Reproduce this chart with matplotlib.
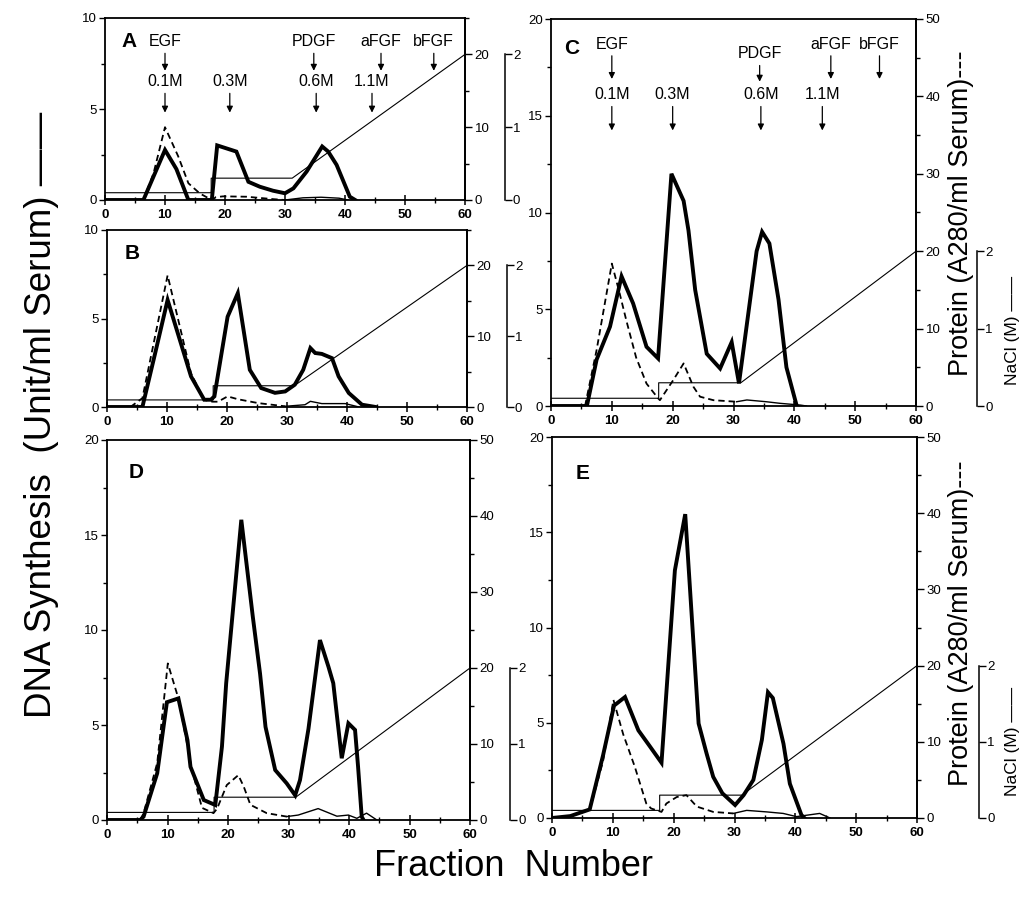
import matplotlib
matplotlib.use("Agg")
import matplotlib.pyplot as plt
from matplotlib.ticker import MultipleLocator

plt.rcParams['font.family'] = ['Liberation Sans', 'DejaVu Sans']

# ---- data ----
# DNA synthesis (Unit/ml serum), thick solid line
A_dna_x = [0, 6.4, 8.1, 10, 11.9, 13.9, 17.8, 18.7, 21.9, 23.9, 25.8, 28, 30, 31.4, 33.6, 36.2, 37.2, 38.6, 40.8, 41.7]
A_dna_y = [0, 0, 1.3, 2.75, 1.7, 0, 0, 3.0, 2.66, 1.0, 0.73, 0.51, 0.37, 0.64, 1.56, 2.94, 2.66, 1.93, 0.18, 0]
B_dna_x = [0, 5.9, 8, 10.1, 14, 16.2, 17.3, 17.9, 20.1, 21.8, 23.8, 25.7, 28, 29.7, 31.3, 32.7, 33.9, 34.7,
           35.8, 37.5, 38.6, 40.3, 42.5, 44.8]
B_dna_y = [0, 0, 3.0, 6.05, 1.73, 0.41, 0.41, 0.6, 5.1, 6.43, 2.1, 1.07, 0.8, 0.88, 1.26, 2.1, 3.33, 3.05,
           3.0, 2.76, 1.73, 0.79, 0.13, 0]
C_dna_x = [0, 5.9, 7.5, 9.7, 11.6, 13.5, 15.7, 17.6, 19.8, 21.8, 22.6, 23.7, 25.6, 27.8, 29.7, 30.9, 33.8,
           34.7, 35.9, 37.4, 38.7, 40.4]
C_dna_y = [0, 0, 2.4, 4.1, 6.7, 5.3, 3.06, 2.46, 12.0, 10.6, 9.07, 6.0, 2.7, 1.94, 3.3, 1.17, 8.0,
           9.0, 8.4, 5.5, 2.0, 0]
D_dna_x = [0, 5.5, 6.05, 8.3, 9.9, 11.8, 13.3, 13.8, 16, 17.9, 19, 19.7, 22.2, 24.1, 25.3, 26.2, 27.8, 29.7,
           31.1, 31.9, 33.3, 35.2, 36.6, 37.4, 38.8, 39.9, 41, 41.5, 42.1, 42.4]
D_dna_y = [0, 0, 0.18, 2.46, 6.2, 6.4, 4.2, 2.8, 1.05, 0.79, 3.86, 7.2, 15.8, 10.7, 7.7, 4.9, 2.63, 1.93,
           1.3, 2.1, 4.8, 9.47, 8.07, 7.2, 3.25, 5.09, 4.74, 2.8, 0.18, 0]
E_dna_x = [0, 3, 6.2, 8.4, 10.2, 12, 14.2, 16, 18, 20.2, 21.9, 24.1, 25.4, 26.5, 28, 30.1, 31.5, 33.1,
           34.5, 35.5, 36.3, 38.05, 39.1, 41, 41.5]
E_dna_y = [0, 0.1, 0.45, 3.3, 5.9, 6.35, 4.6, 3.8, 2.9, 13.0, 15.95, 4.96, 3.4, 2.16, 1.3, 0.68, 1.2, 2.0,
           4.1, 6.6, 6.3, 3.9, 1.8, 0.16, 0]

# protein (A280/ml serum), dashed part then thin solid tail
A_prot_x = [6.4, 8.1, 10, 12.2, 13.9, 15.8, 17.8, 18.5, 19.7, 23.6, 28, 30]
A_prot_y = [0, 3.7, 10.0, 6.0, 2.3, 0.9, 0, 0.4, 0.5, 0.45, 0.12, 0]
A_tail_x = [30, 33, 36, 39, 40.5]
A_tail_y = [0, 0.3, 0.38, 0.25, 0]
B_prot_x = [3.9, 5.9, 10.1, 14, 16.2, 17.6, 18.5, 20.1, 21.8, 25.2, 29.7]
B_prot_y = [0, 1.25, 18.6, 4.75, 1.0, 0.75, 0.75, 1.5, 1.1, 0.55, 0.1]
B_tail_x = [29.7, 33, 33.9, 35.8, 39.7, 42]
B_tail_y = [0.1, 0.32, 0.8, 0.48, 0.48, 0]
C_prot_x = [5.6, 7.5, 10, 11.3, 12.4, 14, 15.7, 17.6, 17.9, 20.1, 21.8, 23.4, 24.5, 26.7, 30.5]
C_prot_y = [0, 7.25, 18.4, 14.5, 11, 6.25, 2.9, 1.0, 0.75, 3.35, 5.5, 2.5, 1.2, 0.75, 0.55]
C_tail_x = [30.5, 32.2, 35.4, 37.6, 41, 42]
C_tail_y = [0.55, 0.78, 0.55, 0.35, 0.12, 0]
D_prot_x = [5.5, 6.05, 8.3, 10.05, 11.8, 14, 15.7, 17.6, 18.2, 19.8, 21.7, 22.6, 23.7, 26.4, 29.7]
D_prot_y = [0, 0.9, 7.5, 20.6, 16, 6.75, 1.6, 0.9, 1.5, 4.6, 5.9, 4.4, 2.0, 0.9, 0.45]
D_tail_x = [29.7, 31.6, 34.9, 38, 39.9, 41.3, 42.9, 44.6]
D_tail_y = [0.45, 0.65, 1.5, 0.5, 0.65, 0.22, 0.9, 0]
E_prot_x = [6.2, 8.4, 10.1, 11.7, 13.6, 15.5, 16.3, 18, 18.8, 20.5, 22.1, 23.8, 26.5, 29.8]
E_prot_y = [1.0, 7.5, 15.5, 11, 6.75, 1.9, 1.25, 0.8, 1.9, 2.75, 3.0, 1.5, 0.8, 0.6]
E_tail_x = [29.8, 32, 35.3, 38, 40.2, 44, 45.7]
E_tail_y = [0.6, 1.0, 0.8, 0.6, 0.18, 0.6, 0]

# NaCl elution program (M)
nacl_x = [0, 17.7, 17.7, 31.2, 60]
nacl_M = [0.1, 0.1, 0.3, 0.3, 2.0]

# arrow labels
gf_names = ['EGF', 'PDGF', 'aFGF', 'bFGF']
gf_frac_A = [10, 34.8, 46, 54.8]
gf_frac_C = [10, 34.3, 46, 54]
salt_names = ['0.1M', '0.3M', '0.6M', '1.1M']
salt_frac_A = [10, 20.8, 35.2, 44.5]
salt_frac_C = [10, 20, 34.5, 44.6]

W, H = 1026, 899
fig = plt.figure(figsize=(W / 100, H / 100), dpi=100)


def rect(l, r, t, b):
    return [l / W, 1 - b / H, (r - l) / W, (b - t) / H]


def panel(pos, letter, dna, prot, tail, big, nacl_pos, letter_xy):
    ax = fig.add_axes(pos)
    dmax = 20 if big else 10
    pmax = 50 if big else 25
    ax.set_xlim(0, 60)
    ax.set_ylim(0, dmax)
    ax.xaxis.set_major_locator(MultipleLocator(10))
    ax.xaxis.set_minor_locator(MultipleLocator(5))
    ax.yaxis.set_major_locator(MultipleLocator(5))
    ax.yaxis.set_minor_locator(MultipleLocator(2.5))
    ax.tick_params(axis='x', which='major', direction='inout', length=7, width=1.1, labelsize=9.5, pad=3)
    ax.tick_params(axis='x', which='minor', direction='inout', length=5, width=1.0)
    ax.tick_params(axis='y', which='major', direction='out', length=4, width=1.0, labelsize=9.5, pad=2)
    ax.tick_params(axis='y', which='minor', direction='out', length=3, width=1.0)
    for lab in ax.get_xticklabels():
        lab.set_fontweight('bold')
    for s in ax.spines.values():
        s.set_linewidth(1.3)

    ax2 = ax.twinx()
    ax2.set_ylim(0, pmax)
    ax2.yaxis.set_minor_locator(MultipleLocator(5))
    ax2.set_yticks([t for t in range(0, pmax + 1, 10)])
    ax2.tick_params(axis='y', which='major', direction='out', length=5, width=1.0, labelsize=9.5, pad=2)
    ax2.tick_params(axis='y', which='minor', direction='out', length=3, width=1.0)
    for k in ['left', 'top', 'bottom']:
        ax2.spines[k].set_visible(False)
    ax2.spines['right'].set_linewidth(1.3)

    ax3 = ax.twinx()
    ax3.set_ylim(0, 2.0 * pmax / 20)
    ax3.spines['right'].set_position(('axes', nacl_pos))
    ax3.spines['right'].set_bounds(0, 2)
    ax3.spines['right'].set_linewidth(1.1)
    for k in ['left', 'top', 'bottom']:
        ax3.spines[k].set_visible(False)
    ax3.set_yticks([0, 1, 2])
    ax3.set_yticklabels(['0', '1', '2'])
    ax3.tick_params(axis='y', direction='out', length=5, width=1.0, labelsize=9.5, pad=1)

    ax3.plot(nacl_x, nacl_M, color='k', lw=0.8)
    ax2.plot(prot[0], prot[1], color='k', lw=1.3, ls=(0, (3.5, 2.2)))
    ax2.plot(tail[0], tail[1], color='k', lw=1.0)
    ax.plot(dna[0], dna[1], color='k', lw=2.8, solid_joinstyle='miter', zorder=5)
    ax.set_zorder(ax3.get_zorder() + 1)
    ax.patch.set_visible(False)

    ax.text(letter_xy[0], letter_xy[1], letter, transform=ax.transAxes, fontsize=15,
            fontweight='bold', ha='left', va='center')
    return ax


def arrow_label(ax, text, x, ytext, ytip):
    ax.annotate(text, xy=(x, ytip), xytext=(x, ytext),
                xycoords=('data', 'axes fraction'), textcoords=('data', 'axes fraction'),
                ha='center', va='center', fontsize=11.5,
                arrowprops=dict(arrowstyle='-|>', color='k', lw=0.9, mutation_scale=9,
                                shrinkA=1, shrinkB=0))


axA = panel(rect(105, 465, 18, 200), 'A', (A_dna_x, A_dna_y), (A_prot_x, A_prot_y),
            (A_tail_x, A_tail_y), False, 1.11, (0.045, 0.87))
axB = panel(rect(107, 467, 230, 407), 'B', (B_dna_x, B_dna_y), (B_prot_x, B_prot_y),
            (B_tail_x, B_tail_y), False, 1.11, (0.05, 0.87))
axC = panel(rect(551, 916, 19, 406), 'C', (C_dna_x, C_dna_y), (C_prot_x, C_prot_y),
            (C_tail_x, C_tail_y), True, 1.167, (0.035, 0.925))
axD = panel(rect(107, 470, 440, 820), 'D', (D_dna_x, D_dna_y), (D_prot_x, D_prot_y),
            (D_tail_x, D_tail_y), True, 1.11, (0.06, 0.915))
axE = panel(rect(552, 917, 437, 818), 'E', (E_dna_x, E_dna_y), (E_prot_x, E_prot_y),
            (E_tail_x, E_tail_y), True, 1.17, (0.065, 0.905))

for name, x in zip(gf_names, gf_frac_A):
    arrow_label(axA, name, x, 0.87, 0.71)
for name, x in zip(salt_names, salt_frac_A):
    arrow_label(axA, name, x, 0.65, 0.48)
for name, x in zip(gf_names, gf_frac_C):
    yt, yp = (0.91, 0.838) if name == 'PDGF' else (0.935, 0.845)
    arrow_label(axC, name, x, yt, yp)
for name, x in zip(salt_names, salt_frac_C):
    arrow_label(axC, name, x, 0.804, 0.712)

fig.text(42 / W, 1 - 415 / H, 'DNA Synthesis  (Unit/ml Serum) \u2014\u2014', rotation=90,
         ha='center', va='center', fontsize=26.5)
fig.text(513 / W, 1 - 866 / H, 'Fraction  Number', ha='center', va='center', fontsize=26)
for yc, yn in [(213, 330), (623, 741)]:
    fig.text(961 / W, 1 - yc / H, 'Protein (A280/ml Serum)---', rotation=90,
             ha='center', va='center', fontsize=19.5)
    fig.text(1013 / W, 1 - yn / H, 'NaCl (M) \u2014\u2014', rotation=90,
             ha='center', va='center', fontsize=12.5)

fig.savefig('out.png', dpi=100)
